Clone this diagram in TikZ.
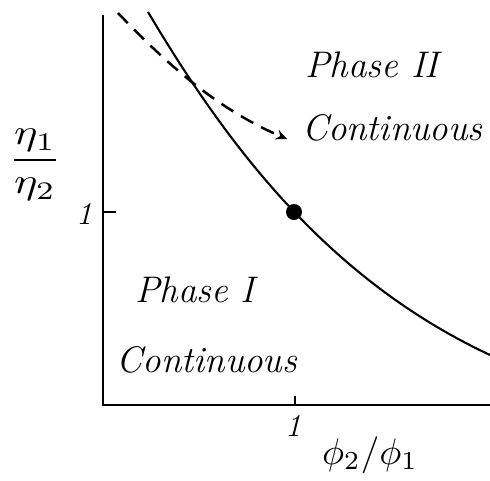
\documentclass[tikz,border=0pt]{standalone}
\usetikzlibrary{arrows.meta}
\begin{document}
\begin{tikzpicture}[x=1pt,y=-1pt,
  lbl/.style={inner sep=0pt,font=\fontsize{37}{37}\selectfont\itshape},
  sml/.style={inner sep=0pt,font=\fontsize{32}{32}\selectfont\itshape},
  mth/.style={inner sep=0pt},
  axis/.style={line width=2.4pt},
  crv/.style={line width=2.1pt}]
\useasboundingbox (0,0) rectangle (490,480);
% axes
\coordinate (top) at (103,15);
\coordinate (org) at (103,405);
\coordinate (xend) at (490,405);
\draw[axis] (top) -- (org) -- (xend);
% ticks
\coordinate (yt0) at (103,212); \coordinate (yt1) at (116,212);
\draw[axis] (yt0) -- (yt1);
\coordinate (xt0) at (295,405); \coordinate (xt1) at (295,396);
\draw[axis] (xt0) -- (xt1);
\node[sml] (y1) at (84,214) {1};
\node[sml] (x1) at (293,426) {1};
% curve
\coordinate (cs) at (148,12);
\coordinate (ce) at (490,355);
\draw[crv] (cs) .. controls (230,150) and (330,280) .. (ce);
\node[circle,fill=black,minimum size=16pt,inner sep=0pt] (dot) at (294,212) {};
% dashed arrow
\coordinate (ds) at (118,13);
\coordinate (de) at (287,139);
\draw[crv,line width=2.5pt,dash pattern=on 14pt off 9pt,-{Stealth[length=11pt,width=10pt]}] (ds) .. controls (165,62) and (215,108) .. (de);
% labels
\node[lbl] (p2) at (372,65) {Phase II};
\node[lbl,anchor=west] (c2) at (302,128) {Continuous};
\node[lbl] (p1) at (195,290) {Phase I};
\node[lbl] (c1) at (207,360) {Continuous};
\node[mth] (ratio) at (35,165) {\scalebox{4.4}[3.6]{$\displaystyle\frac{\eta_1}{\eta_2}$}};
\node[mth] (xl) at (370,455) {\scalebox{3.7}{$\phi_2/\phi_1$}};
\end{tikzpicture}
\end{document}
